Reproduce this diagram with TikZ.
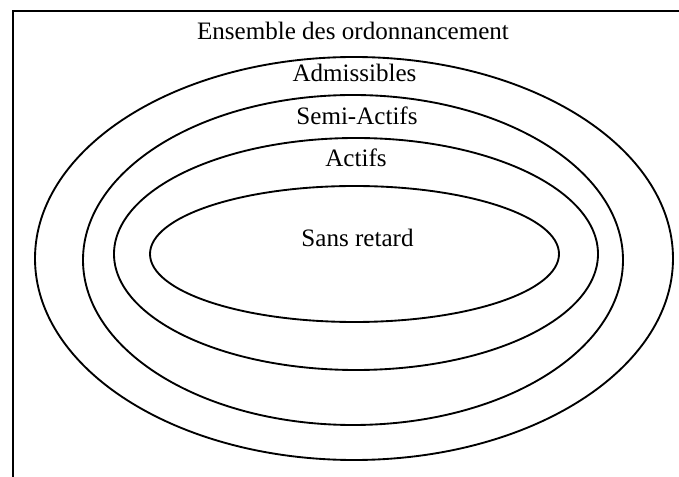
\documentclass[tikz,border=0pt]{standalone}
\usepackage{fontspec}
\setmainfont{Liberation Serif}
\usepackage{tikz}
\tikzset{
x=0.75pt, y=-0.75pt, % one unit is one pixel of the figure
set/.style={line width=1.4pt}, % the nested ellipses
frame/.style={line width=2pt}, % the outer box
setlabel/.style={anchor=base, inner sep=0pt, font=\fontsize{18.8}{22}\selectfont}, % names of the sets
}

\begin{document}
\begin{tikzpicture}
		\useasboundingbox (0,0) rectangle (679,477);
		\draw[frame] (679,11) -- (13,11) -- (13,477);
		\draw[set] (354,258.5) ellipse [x radius=319, y radius=201.5];
		\draw[set] (353,260) ellipse [x radius=270, y radius=165];
		\draw[set] (356,254) ellipse [x radius=242, y radius=116];
		\draw[set] (354.5,254) ellipse [x radius=204.5, y radius=68];
		\node[setlabel] (ens) at (353,40) {Ensemble des ordonnancement};
		\node[setlabel] (adm) at (354.5,82) {Admissibles};
		\node[setlabel] (semi) at (357,125) {Semi-Actifs};
		\node[setlabel] (act) at (356,167) {Actifs};
		\node[setlabel] (sans) at (357.5,247) {Sans retard};
	\end{tikzpicture}
\end{document}
